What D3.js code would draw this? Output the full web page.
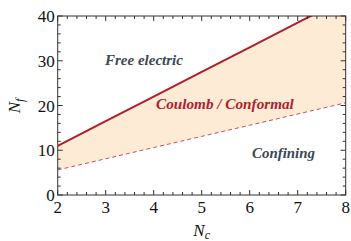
<!DOCTYPE html>
<html><head><meta charset="utf-8">
<script src="https://cdn.jsdelivr.net/npm/d3@7"></script>
<style>body{margin:0;background:#fff}svg{display:block}</style>
</head><body>
<svg id="c" width="351" height="241"></svg>
<script>
const nc = [2, 3, 4, 5, 6, 7, 8];
const upperNf = [11, 16.5, 22, 27.5, 33, 38.5, 44];
const lowerNf = [5.6, 8.1, 10.6, 13.1, 15.6, 18.1, 20.6];
const xTicks = [2, 3, 4, 5, 6, 7, 8];
const yTicks = [0, 10, 20, 30, 40];
const regionLabels = ["Free electric", "Coulomb / Conformal", "Confining"];

const svg = d3.select("#c");
const L = 57.7, R = 345.7, T = 16, B = 195;
const x = d3.scaleLinear().domain([2, 8]).range([L, R]);
const y = d3.scaleLinear().domain([0, 40]).range([B, T]);
const red = "#b01e2a";
const data = nc.map((d, i) => ({nc: d, up: upperNf[i], lo: lowerNf[i]}));

svg.append("clipPath").attr("id", "clip").append("rect")
  .attr("x", L).attr("y", T).attr("width", R - L).attr("height", B - T);
const g = svg.append("g").attr("clip-path", "url(#clip)");

g.append("path").datum(data)
  .attr("d", d3.area().x(d => x(d.nc)).y0(d => y(d.lo)).y1(d => y(d.up)))
  .attr("fill", "#feebd6");
g.append("path").datum(data)
  .attr("d", d3.line().x(d => x(d.nc)).y(d => y(d.up)))
  .attr("fill", "none").attr("stroke", red).attr("stroke-width", 2);
g.append("path").datum(data)
  .attr("d", d3.line().x(d => x(d.nc)).y(d => y(d.lo)))
  .attr("fill", "none").attr("stroke", "#c8505a").attr("stroke-width", 1)
  .attr("stroke-dasharray", "4,3");

svg.append("rect").attr("x", L).attr("y", T).attr("width", R - L).attr("height", B - T)
  .attr("fill", "none").attr("stroke", "#333").attr("stroke-width", 1);

const tickCol = "#333";
const xMinor = d3.range(2, 8.001, 0.2);
const yMinor = d3.range(0, 40.001, 2);
const isMajorX = v => Math.abs(v - Math.round(v)) < 1e-6;
const isMajorY = v => Math.abs(v / 10 - Math.round(v / 10)) < 1e-6;
xMinor.forEach(v => {
  const len = isMajorX(v) ? 5 : 3;
  const px = x(v);
  svg.append("line").attr("x1", px).attr("x2", px).attr("y1", B).attr("y2", B - len).attr("stroke", tickCol);
  svg.append("line").attr("x1", px).attr("x2", px).attr("y1", T).attr("y2", T + len).attr("stroke", tickCol);
});
yMinor.forEach(v => {
  const len = isMajorY(v) ? 5 : 3;
  const py = y(v);
  svg.append("line").attr("y1", py).attr("y2", py).attr("x1", L).attr("x2", L + len).attr("stroke", tickCol);
  svg.append("line").attr("y1", py).attr("y2", py).attr("x1", R).attr("x2", R - len).attr("stroke", tickCol);
});

const serif = '"Liberation Serif", "Times New Roman", serif';
svg.append("g").selectAll("text").data(xTicks).join("text")
  .attr("x", d => x(d)).attr("y", B + 18).attr("text-anchor", "middle")
  .style("font-family", serif).attr("font-size", 17).attr("fill", "#111").text(d => d);
svg.append("g").selectAll("text").data(yTicks).join("text")
  .attr("x", L - 3).attr("y", d => y(d) + 6).attr("text-anchor", "end")
  .style("font-family", serif).attr("font-size", 17).attr("fill", "#111").text(d => d);

const xt = svg.append("text").attr("x", x(5)).attr("y", 236).attr("text-anchor", "middle")
  .style("font-family", serif).attr("font-size", 17).attr("font-style", "italic").attr("fill", "#111");
xt.append("tspan").text("N");
xt.append("tspan").attr("dy", 3).attr("font-size", 12).text("c");
const yt = svg.append("text").attr("transform", "translate(20,106) rotate(-90)").attr("text-anchor", "middle")
  .style("font-family", serif).attr("font-size", 17).attr("font-style", "italic").attr("fill", "#111");
yt.append("tspan").text("N");
yt.append("tspan").attr("dy", 4).attr("font-size", 12).text("f");

// region labels, sized to the reference widths
const lab = (t, px, py, col, w) => {
  const el = svg.append("text").attr("x", px).attr("y", py)
    .style("font-family", serif).attr("font-weight", "bold").attr("font-style", "italic")
    .attr("font-size", 13).attr("fill", col).text(t);
  const m = el.node().getComputedTextLength();
  if (m > 0) el.attr("font-size", Math.min(17, Math.max(10, 13 * w / m)));
};
lab(regionLabels[0], 105, 65, "#3a4852", 78);
lab(regionLabels[1], 156, 109, red, 138);
lab(regionLabels[2], 252, 158, "#3a4852", 63);
</script>
</body></html>
